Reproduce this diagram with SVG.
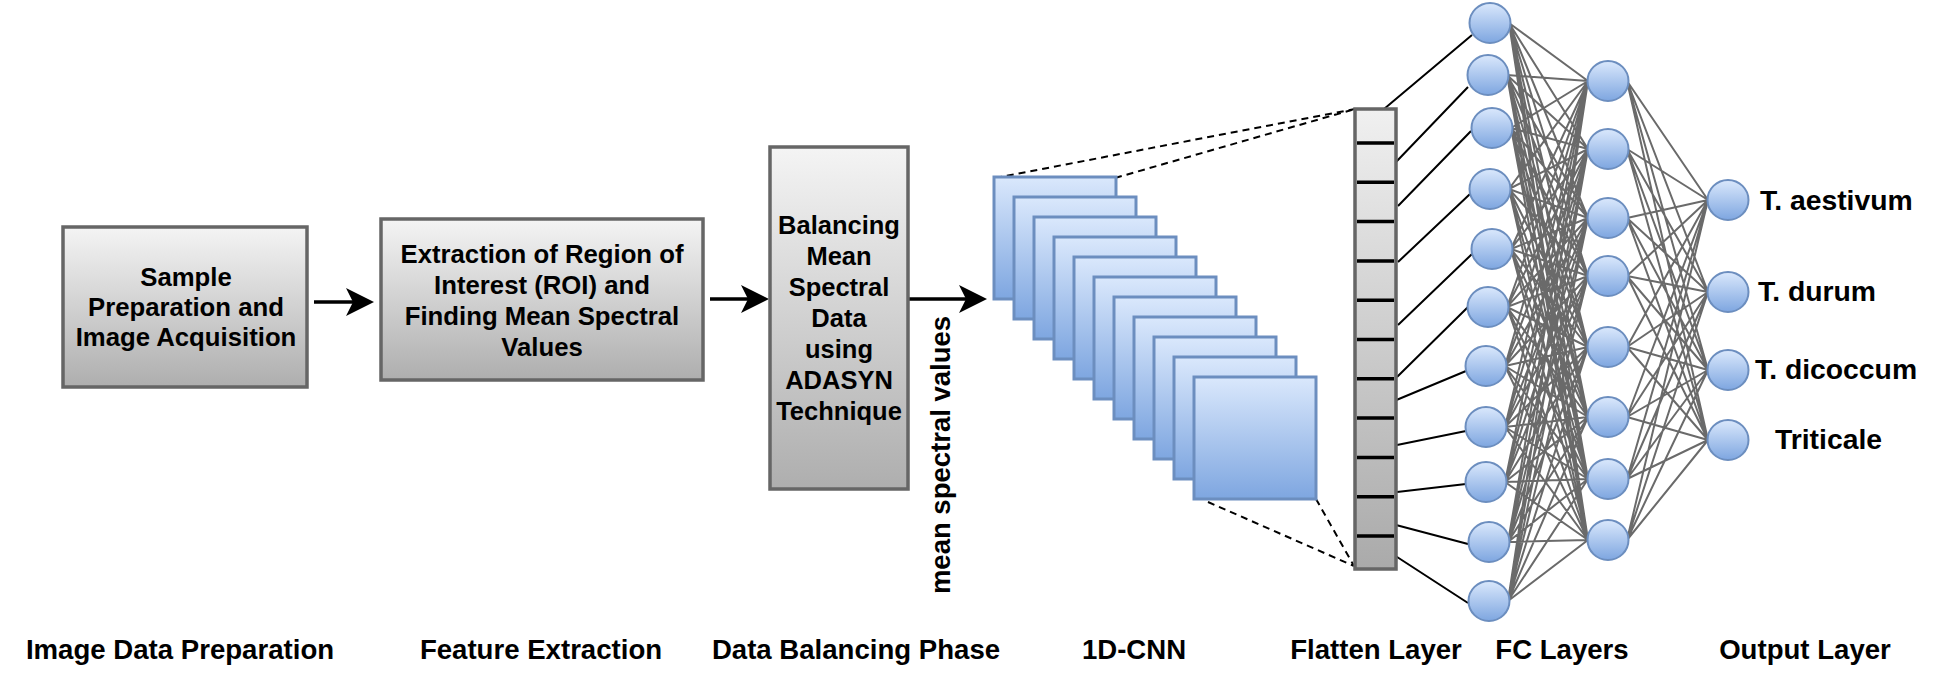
<svg xmlns="http://www.w3.org/2000/svg" width="1939" height="692" viewBox="0 0 1939 692">
<style>
.t{font-family:"Liberation Sans",Arial,sans-serif;font-weight:bold;fill:#000}
.box{fill:url(#gGray);stroke:#666;stroke-width:3.5}
.sq{fill:url(#gBlue);stroke:#6c8ebf;stroke-width:3}
.nd{fill:url(#gBlue);stroke:#6c8ebf;stroke-width:2}
.arrow{stroke:#000;stroke-width:3.5;fill:none}
.dash{stroke:#000;stroke-width:2;stroke-dasharray:7 5;fill:none}
.fl{stroke:#000;stroke-width:2;fill:none}
.fc{stroke:#6a6a6a;stroke-width:2;fill:none}
.div{stroke:#000;stroke-width:3.5}
</style>
<defs>
<linearGradient id="gGray" x1="0" y1="0" x2="0" y2="1"><stop offset="0" stop-color="#f4f4f4"/><stop offset="1" stop-color="#aeaeae"/></linearGradient>
<linearGradient id="gFlat" x1="0" y1="0" x2="0" y2="1"><stop offset="0" stop-color="#f0f0f0"/><stop offset="1" stop-color="#aaaaaa"/></linearGradient>
<linearGradient id="gBlue" x1="0" y1="0" x2="0" y2="1"><stop offset="0" stop-color="#dae8fc"/><stop offset="1" stop-color="#7ea6e0"/></linearGradient>
<marker id="arr" markerWidth="30" markerHeight="30" refX="7" refY="14" orient="auto" markerUnits="userSpaceOnUse"><path d="M0,0 L28,14 L0,28 L7,14 Z" fill="#000"/></marker>
</defs>

<g id="connectors">
<line class="arrow" x1="314" y1="302" x2="353" y2="302" marker-end="url(#arr)"/>
<line class="arrow" x1="710" y1="299" x2="748" y2="299" marker-end="url(#arr)"/>
<line class="arrow" x1="908" y1="299" x2="966" y2="299" marker-end="url(#arr)"/>
<path class="dash" d="M995,178L1355,109M1115,178L1355,109M1208,502L1354,566M1316,499L1354,566"/>
<path class="fl" d="M1384,109L1472,35M1396,162L1468,87M1398,206L1471,131M1398,262L1470,194M1398,325L1472,254M1397,377L1468,307M1394,401L1466,371M1397,445L1466,431M1397,492L1466,484M1396,525L1468,544M1394,555L1468,603"/>
<path class="fc" d="M1509,23L1588,81M1509,23L1588,149M1509,23L1588,218M1509,23L1588,276M1509,23L1588,347M1509,23L1588,417M1509,23L1588,479M1509,23L1588,540
M1507,75L1588,81M1507,75L1588,149M1507,75L1588,218M1507,75L1588,276M1507,75L1588,347M1507,75L1588,417M1507,75L1588,479M1507,75L1588,540
M1511,128L1588,81M1511,128L1588,149M1511,128L1588,218M1511,128L1588,276M1511,128L1588,347M1511,128L1588,417M1511,128L1588,479M1511,128L1588,540
M1509,189L1588,81M1509,189L1588,149M1509,189L1588,218M1509,189L1588,276M1509,189L1588,347M1509,189L1588,417M1509,189L1588,479M1509,189L1588,540
M1511,249L1588,81M1511,249L1588,149M1511,249L1588,218M1511,249L1588,276M1511,249L1588,347M1511,249L1588,417M1511,249L1588,479M1511,249L1588,540
M1507,307L1588,81M1507,307L1588,149M1507,307L1588,218M1507,307L1588,276M1507,307L1588,347M1507,307L1588,417M1507,307L1588,479M1507,307L1588,540
M1505,366L1588,81M1505,366L1588,149M1505,366L1588,218M1505,366L1588,276M1505,366L1588,347M1505,366L1588,417M1505,366L1588,479M1505,366L1588,540
M1505,427L1588,81M1505,427L1588,149M1505,427L1588,218M1505,427L1588,276M1505,427L1588,347M1505,427L1588,417M1505,427L1588,479M1505,427L1588,540
M1505,482L1588,81M1505,482L1588,149M1505,482L1588,218M1505,482L1588,276M1505,482L1588,347M1505,482L1588,417M1505,482L1588,479M1505,482L1588,540
M1508,542L1588,81M1508,542L1588,149M1508,542L1588,218M1508,542L1588,276M1508,542L1588,347M1508,542L1588,417M1508,542L1588,479M1508,542L1588,540
M1508,601L1588,81M1508,601L1588,149M1508,601L1588,218M1508,601L1588,276M1508,601L1588,347M1508,601L1588,417M1508,601L1588,479M1508,601L1588,540"/>
<path class="fc" d="M1627,81L1708,200M1627,81L1708,292M1627,81L1708,370M1627,81L1708,440
M1627,149L1708,200M1627,149L1708,292M1627,149L1708,370M1627,149L1708,440
M1627,218L1708,200M1627,218L1708,292M1627,218L1708,370M1627,218L1708,440
M1627,276L1708,200M1627,276L1708,292M1627,276L1708,370M1627,276L1708,440
M1627,347L1708,200M1627,347L1708,292M1627,347L1708,370M1627,347L1708,440
M1627,417L1708,200M1627,417L1708,292M1627,417L1708,370M1627,417L1708,440
M1627,479L1708,200M1627,479L1708,292M1627,479L1708,370M1627,479L1708,440
M1627,540L1708,200M1627,540L1708,292M1627,540L1708,370M1627,540L1708,440"/>
</g>

<g id="box-sample">
<rect class="box" x="63" y="227" width="244" height="160"/>
<text class="t" font-size="25" text-anchor="middle" transform="translate(186,0) scale(1.03,1)"><tspan x="0" y="286">Sample</tspan><tspan x="0" y="316">Preparation and</tspan><tspan x="0" y="346">Image Acquisition</tspan></text>
</g>

<g id="box-roi">
<rect class="box" x="381" y="219" width="322" height="161"/>
<text class="t" font-size="25" text-anchor="middle" transform="translate(542,0) scale(1.03,1)"><tspan x="0" y="263">Extraction of Region of</tspan><tspan x="0" y="294">Interest (ROI) and</tspan><tspan x="0" y="325">Finding Mean Spectral</tspan><tspan x="0" y="356">Values</tspan></text>
</g>

<g id="box-adasyn">
<rect class="box" x="770" y="147" width="138" height="342"/>
<text class="t" font-size="25.5" text-anchor="middle"><tspan x="839" y="234">Balancing</tspan><tspan x="839" y="265">Mean</tspan><tspan x="839" y="296">Spectral</tspan><tspan x="839" y="327">Data</tspan><tspan x="839" y="358">using</tspan><tspan x="839" y="389">ADASYN</tspan><tspan x="839" y="420">Technique</tspan></text>
</g>

<g id="label-mean">
<text class="t" font-size="27.5" text-anchor="middle" transform="translate(950,455) rotate(-90)">mean spectral values</text>
</g>

<g id="cnn">
<rect class="sq" x="994" y="177" width="122" height="122"/>
<rect class="sq" x="1014" y="197" width="122" height="122"/>
<rect class="sq" x="1034" y="217" width="122" height="122"/>
<rect class="sq" x="1054" y="237" width="122" height="122"/>
<rect class="sq" x="1074" y="257" width="122" height="122"/>
<rect class="sq" x="1094" y="277" width="122" height="122"/>
<rect class="sq" x="1114" y="297" width="122" height="122"/>
<rect class="sq" x="1134" y="317" width="122" height="122"/>
<rect class="sq" x="1154" y="337" width="122" height="122"/>
<rect class="sq" x="1174" y="357" width="122" height="122"/>
<rect class="sq" x="1194" y="377" width="122" height="122"/>
</g>

<g id="flatten">
<rect x="1355" y="109" width="41" height="460" fill="url(#gFlat)" stroke="#666" stroke-width="3.5"/>
<path class="div" d="M1357,143H1394M1357,182.3H1394M1357,221.6H1394M1357,260.9H1394M1357,300.2H1394M1357,339.5H1394M1357,378.8H1394M1357,418.1H1394M1357,457.4H1394M1357,496.7H1394M1357,536H1394"/>
</g>

<g id="fc1">
<ellipse class="nd" cx="1490" cy="23" rx="20.5" ry="20"/>
<ellipse class="nd" cx="1488" cy="75" rx="20.5" ry="20"/>
<ellipse class="nd" cx="1492" cy="128" rx="20.5" ry="20"/>
<ellipse class="nd" cx="1490" cy="189" rx="20.5" ry="20"/>
<ellipse class="nd" cx="1492" cy="249" rx="20.5" ry="20"/>
<ellipse class="nd" cx="1488" cy="307" rx="20.5" ry="20"/>
<ellipse class="nd" cx="1486" cy="366" rx="20.5" ry="20"/>
<ellipse class="nd" cx="1486" cy="427" rx="20.5" ry="20"/>
<ellipse class="nd" cx="1486" cy="482" rx="20.5" ry="20"/>
<ellipse class="nd" cx="1489" cy="542" rx="20.5" ry="20"/>
<ellipse class="nd" cx="1489" cy="601" rx="20.5" ry="20"/>
</g>

<g id="fc2">
<ellipse class="nd" cx="1608" cy="81" rx="20.5" ry="20"/>
<ellipse class="nd" cx="1608" cy="149" rx="20.5" ry="20"/>
<ellipse class="nd" cx="1608" cy="218" rx="20.5" ry="20"/>
<ellipse class="nd" cx="1608" cy="276" rx="20.5" ry="20"/>
<ellipse class="nd" cx="1608" cy="347" rx="20.5" ry="20"/>
<ellipse class="nd" cx="1608" cy="417" rx="20.5" ry="20"/>
<ellipse class="nd" cx="1608" cy="479" rx="20.5" ry="20"/>
<ellipse class="nd" cx="1608" cy="540" rx="20.5" ry="20"/>
</g>

<g id="output">
<ellipse class="nd" cx="1728" cy="200" rx="20.5" ry="20"/>
<ellipse class="nd" cx="1728" cy="292" rx="20.5" ry="20"/>
<ellipse class="nd" cx="1728" cy="370" rx="20.5" ry="20"/>
<ellipse class="nd" cx="1728" cy="440" rx="20.5" ry="20"/>
<text class="t" font-size="27.5" transform="translate(1760,210) scale(1.03,1)">T. aestivum</text>
<text class="t" font-size="27.5" transform="translate(1758,301) scale(1.03,1)">T. durum</text>
<text class="t" font-size="27.5" transform="translate(1755,379) scale(1.03,1)">T. dicoccum</text>
<text class="t" font-size="27.5" transform="translate(1775,449) scale(1.03,1)">Triticale</text>
</g>

<g id="phase-labels">
<text class="t" font-size="26.8" text-anchor="middle" transform="translate(180,659) scale(1.03,1)">Image Data Preparation</text>
<text class="t" font-size="26.8" text-anchor="middle" transform="translate(541,659) scale(1.03,1)">Feature Extraction</text>
<text class="t" font-size="26.8" text-anchor="middle" transform="translate(856,659) scale(1.03,1)">Data Balancing Phase</text>
<text class="t" font-size="26.8" text-anchor="middle" transform="translate(1134,659) scale(1.03,1)">1D-CNN</text>
<text class="t" font-size="26.8" text-anchor="middle" transform="translate(1376,659) scale(1.03,1)">Flatten Layer</text>
<text class="t" font-size="26.8" text-anchor="middle" transform="translate(1562,659) scale(1.03,1)">FC Layers</text>
<text class="t" font-size="26.8" text-anchor="middle" transform="translate(1805,659) scale(1.03,1)">Output Layer</text>
</g>
</svg>
